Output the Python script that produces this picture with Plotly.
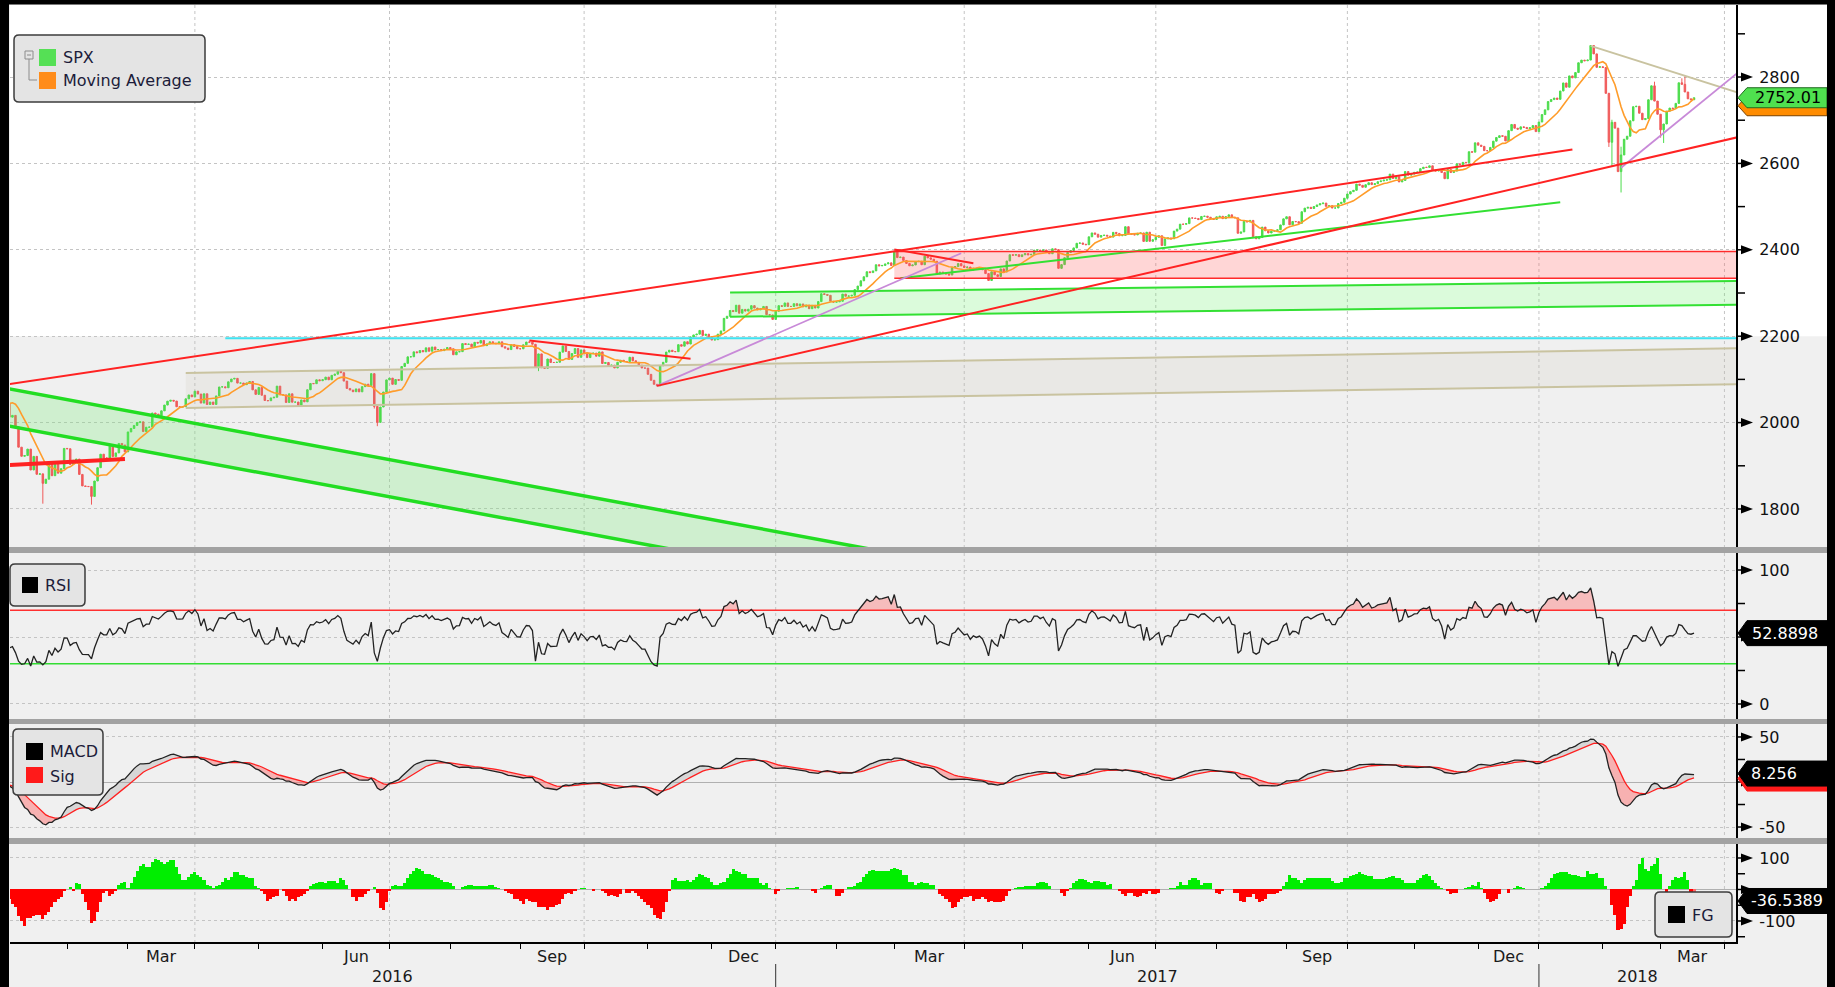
import numpy as np
import pandas as pd
import plotly.graph_objects as go
from plotly.subplots import make_subplots

# ======================= DATA =======================
holidays = ["2016-01-18", "2016-02-15", "2016-03-25", "2016-05-30", "2016-07-04", "2016-09-05",
            "2016-11-24", "2016-12-26", "2017-01-02", "2017-01-16", "2017-02-20", "2017-04-14",
            "2017-05-29", "2017-07-04", "2017-09-04", "2017-11-23", "2017-12-25", "2018-01-01",
            "2018-01-15", "2018-02-19", "2018-03-30"]

# closes before the visible window (Oct-Dec 2015), used only to seed the indicators
warmup_close = [
    1923.82, 1951.36, 1987.05, 1979.92, 1995.83, 2013.43, 2014.89, 2017.46, 2003.69, 1994.24, 2023.86,
    2033.11, 2033.66, 2030.77, 2018.94, 2052.51, 2075.15, 2071.18, 2065.89, 2090.35, 2089.41, 2079.36,
    2104.05, 2109.79, 2102.31, 2099.93, 2099.20, 2078.58, 2081.72, 2075.00, 2045.97, 2023.04,
    2053.19, 2050.44, 2083.58, 2081.24, 2089.17, 2086.59, 2089.14, 2088.87, 2090.11, 2080.41,
    2102.63, 2079.51, 2049.62, 2091.69, 2077.07, 2063.59, 2047.62, 2052.23, 2012.37, 2021.94, 2043.41,
    2073.07, 2041.89, 2005.55, 2021.15, 2038.97, 2064.29, 2060.99, 2056.50, 2078.36, 2063.36, 2043.94]

close_2016 = [
    # Jan
    2012.66, 2016.71, 1990.26, 1943.09, 1922.03, 1923.67, 1938.68, 1890.28, 1921.84, 1880.33,
    1881.33, 1859.33, 1868.99, 1906.90, 1877.08, 1903.63, 1882.95, 1893.36, 1940.24,
    # Feb
    1939.38, 1903.03, 1912.53, 1915.45, 1880.05, 1853.44, 1852.21, 1851.86, 1829.08, 1864.78,
    1895.58, 1926.82, 1917.83, 1917.78, 1945.50, 1921.27, 1929.80, 1951.70, 1948.05, 1932.23,
    # Mar
    1978.35, 1986.45, 1993.40, 1999.99, 2001.76, 1979.26, 1989.26, 1989.57, 2022.19, 2019.64, 2015.93,
    2027.22, 2040.59, 2049.58, 2051.60, 2049.80, 2036.71, 2035.94, 2037.05, 2055.01, 2063.95, 2059.74,
    # Apr
    2072.78, 2066.13, 2045.17, 2066.66, 2041.91, 2047.60, 2041.99, 2061.72, 2082.42, 2082.78, 2080.73,
    2094.34, 2100.80, 2102.40, 2091.48, 2091.58, 2087.79, 2091.70, 2095.15, 2075.81, 2065.30,
    # May
    2081.43, 2063.37, 2051.12, 2050.63, 2057.14, 2058.69, 2084.39, 2064.46, 2064.11, 2046.61, 2066.66,
    2047.21, 2047.63, 2040.04, 2052.32, 2048.04, 2076.06, 2090.54, 2090.10, 2099.06, 2096.95,
    # Jun
    2099.33, 2105.26, 2099.13, 2109.41, 2112.13, 2119.12, 2115.48, 2096.07, 2079.06, 2075.32, 2071.50,
    2077.99, 2071.22, 2083.25, 2088.90, 2085.45, 2113.32, 2037.41, 2000.54, 2036.09, 2070.77, 2098.86,
    # Jul
    2102.95, 2088.55, 2099.73, 2097.90, 2129.90, 2137.16, 2152.14, 2152.43, 2163.75, 2161.74,
    2166.89, 2163.78, 2173.02, 2165.17, 2175.03, 2168.48, 2169.18, 2166.58, 2170.06, 2173.60,
    # Aug
    2170.84, 2157.03, 2163.79, 2164.25, 2182.87, 2180.89, 2181.74, 2175.49, 2185.79, 2184.05, 2190.15,
    2178.15, 2182.22, 2187.02, 2183.87, 2182.64, 2186.90, 2175.44, 2172.47, 2169.04, 2180.38, 2176.12,
    2170.95,
    # Sep
    2170.86, 2179.98, 2186.48, 2186.16, 2181.30, 2127.81, 2159.04, 2127.02, 2125.77, 2147.26, 2139.16,
    2139.12, 2139.76, 2163.12, 2177.18, 2164.69, 2146.10, 2159.93, 2171.37, 2151.13, 2168.27,
    # Oct
    2161.20, 2150.49, 2159.73, 2160.77, 2153.74, 2163.66, 2136.73, 2139.18, 2132.55, 2132.98, 2126.50,
    2139.60, 2144.29, 2141.34, 2141.16, 2151.33, 2143.16, 2139.43, 2133.04, 2126.41, 2126.15,
    # Nov
    2111.72, 2097.94, 2088.66, 2085.18, 2131.52, 2139.56, 2163.26, 2167.48, 2164.45, 2164.20, 2180.39,
    2176.94, 2187.12, 2181.90, 2198.18, 2202.94, 2204.72, 2213.35, 2201.72, 2204.66, 2198.81,
    # Dec
    2191.08, 2191.95, 2204.71, 2212.23, 2241.35, 2246.19, 2259.53, 2256.96, 2271.72, 2253.28, 2262.03,
    2258.07, 2262.53, 2270.76, 2265.18, 2260.96, 2263.79, 2268.88, 2249.92, 2249.26, 2238.83]

close_2017 = [
    # Jan
    2257.83, 2270.75, 2269.00, 2276.98, 2268.90, 2268.90, 2275.32, 2270.44, 2274.64, 2267.89,
    2271.89, 2263.69, 2271.31, 2265.20, 2280.07, 2298.37, 2296.68, 2294.69, 2280.90, 2278.87,
    # Feb
    2279.55, 2280.85, 2297.42, 2292.56, 2293.08, 2294.67, 2307.87, 2316.10, 2328.25, 2337.58,
    2349.25, 2347.22, 2351.16, 2365.38, 2362.82, 2363.81, 2367.34, 2369.75, 2363.64,
    # Mar
    2395.96, 2381.92, 2383.12, 2375.31, 2368.39, 2362.98, 2364.87, 2372.60, 2373.47, 2365.45, 2385.26,
    2381.38, 2378.25, 2373.47, 2344.02, 2348.45, 2345.96, 2343.98, 2341.59, 2358.57, 2361.13, 2368.06,
    2362.72,
    # Apr
    2358.84, 2360.16, 2352.95, 2357.49, 2355.54, 2357.16, 2353.78, 2344.93, 2328.95, 2349.01,
    2342.19, 2338.17, 2355.84, 2348.69, 2374.15, 2388.61, 2387.45, 2388.77, 2384.20,
    # May
    2388.33, 2391.17, 2388.13, 2389.52, 2399.29, 2399.38, 2396.92, 2399.63, 2394.44, 2390.90, 2402.32,
    2400.67, 2357.03, 2365.72, 2381.73, 2394.02, 2398.42, 2404.39, 2415.07, 2415.82, 2412.91, 2411.80,
    # Jun
    2430.06, 2439.07, 2436.10, 2429.33, 2433.14, 2433.79, 2431.77, 2429.39, 2440.35, 2437.92, 2432.46,
    2433.15, 2453.46, 2437.03, 2435.61, 2434.50, 2438.30, 2439.07, 2419.38, 2440.69, 2419.70, 2423.41,
    # Jul
    2429.01, 2432.54, 2409.75, 2425.18, 2427.43, 2425.53, 2443.25, 2447.83, 2459.27, 2459.14,
    2460.61, 2473.83, 2473.45, 2472.54, 2469.91, 2477.13, 2477.83, 2475.42, 2472.10, 2470.30,
    # Aug
    2476.35, 2477.57, 2472.16, 2476.83, 2480.91, 2474.92, 2474.02, 2438.21, 2441.32, 2465.84, 2464.61,
    2468.11, 2430.01, 2425.55, 2428.37, 2452.51, 2444.04, 2438.97, 2443.05, 2444.24, 2446.30, 2457.59,
    2471.65,
    # Sep
    2476.55, 2457.85, 2465.54, 2465.10, 2461.43, 2488.11, 2496.48, 2498.37, 2495.62, 2500.23,
    2503.87, 2506.65, 2508.24, 2500.60, 2502.22, 2496.66, 2496.84, 2507.04, 2510.06, 2519.36,
    # Oct
    2529.12, 2534.58, 2537.74, 2552.07, 2549.33, 2544.73, 2550.64, 2555.24, 2550.93, 2553.17, 2557.64,
    2559.36, 2561.26, 2562.10, 2575.21, 2564.98, 2569.13, 2557.15, 2560.40, 2581.07, 2572.83, 2575.26,
    # Nov
    2579.36, 2579.85, 2587.84, 2591.13, 2590.64, 2594.38, 2584.62, 2582.30, 2584.84, 2578.87, 2564.62,
    2585.64, 2578.85, 2582.14, 2599.03, 2597.08, 2602.42, 2601.42, 2627.04, 2626.07, 2647.58,
    # Dec
    2642.22, 2639.44, 2629.57, 2629.27, 2636.98, 2651.50, 2659.99, 2664.11, 2662.85, 2652.01,
    2675.81, 2690.16, 2681.47, 2679.25, 2684.57, 2683.34, 2680.50, 2682.62, 2687.54, 2673.61]

close_2018 = [
    # Jan
    2695.81, 2713.06, 2723.99, 2743.15, 2747.71, 2751.29, 2748.23, 2767.56, 2786.24, 2776.42, 2802.56,
    2798.03, 2810.30, 2832.97, 2839.13, 2837.54, 2839.25, 2872.87, 2853.53, 2822.43, 2823.81,
    # Feb
    2821.98, 2762.13, 2648.94, 2695.14, 2681.66, 2581.00, 2619.55, 2656.00, 2662.94, 2698.63,
    2731.20, 2732.22, 2716.26, 2701.33, 2703.96, 2747.30, 2779.60, 2744.28, 2713.83,
    # Mar
    2677.67, 2691.25, 2720.94, 2728.12, 2726.80, 2738.97, 2786.57, 2783.02, 2765.31, 2749.48,
    2747.33, 2752.01]

wick_high = {"2018-01-26": 2872.87, "2018-02-02": 2808.92, "2018-02-05": 2763.39, "2018-02-06": 2701.04,
             "2018-02-09": 2638.67, "2018-02-27": 2789.15, "2018-03-12": 2796.98, "2018-03-13": 2801.90}
wick_low = {"2016-01-20": 1812.29, "2016-02-11": 1810.10, "2016-06-24": 2032.57, "2016-06-27": 1991.68,
            "2016-09-12": 2119.12, "2016-11-04": 2083.79, "2018-02-05": 2638.17, "2018-02-06": 2593.07,
            "2018-02-08": 2580.56, "2018-02-09": 2532.69, "2018-03-01": 2659.65, "2018-03-02": 2647.32}

fg_2016 = [
    -30, -45, -55, -85, -100, -115, -90, -90, -85, -80,
    -80, -95, -80, -70, -55, -40, -30, -25, -5, 3,
    7, -5, 20, 18, -15, -40, -65, -105, -100, -70,
    -40, -10, -5, -20, -15, -5, 15, 20, 25, 5,
    20, 40, 60, 75, 80, 70, 70, 88, 97, 95,
    88, 80, 88, 95, 95, 70, 50, 30, 30, 40,
    50, 55, 45, 40, 30, 15, 10, 5, 10, 15,
    25, 35, 30, 40, 55, 55, 45, 45, 40, 35,
    35, 10, 5, -5, -15, -35, -30, -25, -20, 0,
    -5, -20, -35, -30, -35, -25, -20, -15, -5, 10,
    18, 20, 25, 25, 22, 28, 28, 28, 20, 38,
    30, 15, 0, -25, -35, -25, -25, -15, -5, 3,
    8, -10, -60, -65, -40, -5, 10, 15, 10, 10,
    20, 35, 50, 60, 68, 65, 60, 50, 50, 45,
    40, 38, 30, 25, 25, 22, 10, 3, 0, 8,
    10, 15, 13, 12, 12, 10, 10, 12, 15, 15,
    8, 5, 0, -5, -10, -15, -30, -30, -35, -45,
    -30, -35, -40, -40, -55, -55, -55, -65, -55, -55,
    -50, -45, -30, -15, -10, -15, -5, 0, 5, 5,
    0, 0, -5, 0, 0, -5, -10, -20, -18, -20,
    -25, -15, 0, -10, -10, -5, -10, -20, -30, -40,
    -50, -60, -80, -90, -95, -70, -40, -5, 30, 35,
    28, 28, 28, 30, 25, 30, 40, 48, 45, 40,
    35, 25, 15, 15, 20, 25, 35, 50, 65, 60,
    55, 48, 48, 35, 35, 35, 35, 22, 15, 20,
    5, 0]
fg_2017 = [
    -15, -5, 0, 0, 5, 5, 5, 8,
    3, 0, 0, 0, -5, -10, 0, 5, 10, 13,
    13, 0, -20, -20, -10, 3, 8, 8, 12, 20,
    25, 40, 50, 58, 62, 60, 60, 60, 60, 60,
    65, 68, 65, 62, 45, 45, 25, 25, 15, 20,
    25, 20, 20, 15, 15, 0, -15, -20, -30, -40,
    -60, -55, -40, -30, -25, -25, -20, -35, -30, -30,
    -25, -30, -40, -35, -40, -40, -40, -35, -20, -5,
    3, 5, 8, 8, 12, 12, 12, 12, 20, 25,
    25, 20, 10, 0, 0, 0, -10, -20, -5, 5,
    20, 28, 33, 33, 30, 25, 22, 28, 28, 25,
    25, 15, 18, 0, 0, -5, -15, -20, -12, -12,
    -20, -25, -20, -12, -15, -5, -15, -15, -10, 0,
    3, 3, 5, 5, 10, 25, 15, 15, 30, 38,
    38, 30, 15, 20, 20, 20, 0, -10, -15, -5,
    0, 0, 0, -10, -10, -35, -40, -25, -25, -15,
    -30, -40, -35, -30, -15, -15, -15, -10, -5, 10,
    25, 45, 38, 35, 30, 22, 30, 35, 35, 35,
    35, 35, 35, 35, 35, 28, 20, 22, 25, 35,
    38, 42, 45, 50, 55, 50, 45, 42, 42, 32,
    32, 32, 32, 38, 40, 42, 38, 38, 30, 20,
    20, 20, 20, 30, 38, 45, 48, 42, 30, 22,
    10, 5, 0, -5, -15, -12, -10, 0, 3, 5,
    8, 15, 10, 25, 5, -10, -30, -40, -38, -30,
    -15, 0, 0, -10, 3, 5, 10, 8, 5, 2,
    2, 2, 2]
fg_2018 = [
    0, 5, 10, 20, 35, 48, 52,
    55, 55, 55, 50, 45, 45, 42, 40, 40, 58,
    50, 50, 52, 35, 35, 10, 0, -50, -80, -130,
    -125, -110, -55, -20, 10, 30, 80, 100, 65, 60,
    75, 80, 100, 50, 0, -10, 10, 30, 40, 38,
    40, 55, 30, -15, -36.5389]

# last-value labels shown on the right axis
last_price = 2752.01
last_rsi = 52.8898
last_macd = 8.256
last_fg = -36.5389

# drawn studies: (start date, start value, end date, end value)
red_lines = [("2016-01-04", 2089, "2018-01-18", 2632),
             ("2016-11-04", 2085, "2018-04-06", 2660),
             ("2016-09-07", 2190, "2016-11-21", 2148),
             ("2017-03-01", 2401, "2017-04-06", 2369)]
red_thick_lines = [("2016-01-04", 1902, "2016-02-29", 1916)]
green_lines = [("2017-03-03", 2334, "2018-01-11", 2510)]
green_channel = [("2016-01-04", 2078, "2017-03-14", 1685),
                 ("2016-01-04", 1992, "2017-03-14", 1599)]
green_zone = [("2016-12-09", 2301, "2018-04-06", 2328),
              ("2016-12-09", 2245, "2018-04-06", 2273)]
red_zone = ("2017-03-01", "2018-04-06", 2334, 2396)
purple_lines = [("2016-11-04", 2085, "2017-03-31", 2392),
                ("2018-02-09", 2590, "2018-04-06", 2808)]
tan_lines = [("2018-01-26", 2872, "2018-04-06", 2765)]
tan_band = [("2016-03-29", 2115, "2018-04-06", 2172),
            ("2016-03-29", 2034, "2018-04-06", 2089)]
cyan_level = ("2016-04-15", "2018-04-06", 2195)

price_ticks = [1800, 2000, 2200, 2400, 2600, 2800]
price_minor = [1900, 2100, 2300, 2500, 2700, 2900]
rsi_levels = (70, 30)

# ======================= LAYOUT CONSTANTS =======================
FONT = "DejaVu Sans, Verdana, Arial, sans-serif"
W, H = 1835, 987
PL, PR, PT, PB = 10, 1736, 5, 942
XR = [0.2, 567.8]
PANELS = {"price": (5, 548, [1709.7, 2966.7]),
          "rsi": (553, 719, [-11.2, 112.7]),
          "macd": (724, 839, [-63.3, 64.4]),
          "fg": (844, 942, [-166.7, 144.4])}
GREEN = "#4cdc4c"
RED = "#f05a5a"


def X(px):
    return (px - PL) / (PR - PL)


def Y(py):
    return (PB - py) / (PB - PT)


def xpx(i):
    return PL + (i - XR[0]) / (XR[1] - XR[0]) * (PR - PL)


def vpx(panel, v):
    t, b, r = PANELS[panel]
    return t + (r[1] - v) / (r[1] - r[0]) * (b - t)


# ======================= CALENDAR & STUDIES =======================
cal = pd.bdate_range("2016-01-04", "2018-04-30")
cal = cal[~cal.isin(pd.to_datetime(holidays))]
pos = {d: i for i, d in enumerate(cal)}


def xi(d):
    return pos[pd.Timestamp(d)]


close = np.array(close_2016 + close_2017 + close_2018, dtype=float)
n = len(close)
x = np.arange(n)
full = pd.Series(warmup_close + list(close))
nw = len(warmup_close)
opens = full.shift(1).values[nw:]
highs = np.maximum(opens, close)
lows = np.minimum(opens, close)
for d, v in wick_high.items():
    highs[xi(d)] = max(highs[xi(d)], v)
for d, v in wick_low.items():
    lows[xi(d)] = min(lows[xi(d)], v)

ma = full.rolling(10).mean().values[nw:]
delta = full.diff().fillna(0)
ag = delta.clip(lower=0).ewm(alpha=1 / 14, adjust=False).mean()
al = (-delta).clip(lower=0).ewm(alpha=1 / 14, adjust=False).mean()
rsi = (100 - 100 / (1 + ag / al)).values[nw:]
macd_s = full.ewm(span=12, adjust=False).mean() - full.ewm(span=26, adjust=False).mean()
sig_s = macd_s.ewm(span=9, adjust=False).mean()
macd = macd_s.values[nw:]
sig = sig_s.values[nw:]
fg = np.array(fg_2016 + fg_2017 + fg_2018, dtype=float)[:n]

# ======================= FIGURE =======================
fig = make_subplots(rows=4, cols=1, shared_xaxes=True, vertical_spacing=0.01)


def add(tr, row):
    fig.add_trace(tr, row=row, col=1)


def seg_trace(a, va, b, vb, color, width):
    return go.Scatter(x=[xi(a), xi(b)], y=[va, vb], mode="lines", line=dict(color=color, width=width),
                      hoverinfo="skip")


def band_trace(top, bot, fill):
    (a, v1, b, v2), (c, w1, d, w2) = top, bot
    return go.Scatter(x=[xi(a), xi(b), xi(d), xi(c), xi(a)], y=[v1, v2, w2, w1, v1], mode="lines",
                      line=dict(width=0), fill="toself", fillcolor=fill, hoverinfo="skip")


# fills
add(band_trace(tan_band[0], tan_band[1], "rgba(175,170,135,0.10)"), 1)
add(band_trace(green_channel[0], green_channel[1], "rgba(90,235,90,0.22)"), 1)
add(band_trace(green_zone[0], green_zone[1], "rgba(90,235,90,0.22)"), 1)
ra, rb, rlo, rhi = red_zone
add(go.Scatter(x=[xi(ra), xi(rb), xi(rb), xi(ra), xi(ra)], y=[rhi, rhi, rlo, rlo, rhi], mode="lines",
               line=dict(width=0), fill="toself", fillcolor="rgba(255,90,90,0.25)", hoverinfo="skip"), 1)

# candles + MA
add(go.Candlestick(x=x, open=opens, high=highs, low=lows, close=close,
                   increasing=dict(line=dict(color=GREEN, width=1), fillcolor=GREEN),
                   decreasing=dict(line=dict(color=RED, width=1), fillcolor=RED),
                   whiskerwidth=0, hoverinfo="skip"), 1)
add(go.Scatter(x=x, y=ma, mode="lines", line=dict(color="#ff9c2a", width=1.6), hoverinfo="skip"), 1)

# study lines
for t in tan_band:
    add(seg_trace(*t, "#c9c3a0", 2), 1)
for t in tan_lines:
    add(seg_trace(*t, "#c9c3a0", 2), 1)
for t in green_channel:
    add(seg_trace(*t, "#22dd22", 3.5), 1)
for t in green_zone:
    add(seg_trace(*t, "#33e033", 2), 1)
for t in green_lines:
    add(seg_trace(*t, "#33e033", 2), 1)
add(go.Scatter(x=[xi(ra), xi(rb)], y=[rhi, rhi], mode="lines", line=dict(color="#ff2a2a", width=1.5)), 1)
add(go.Scatter(x=[xi(ra), xi(rb)], y=[rlo, rlo], mode="lines", line=dict(color="#ff2a2a", width=1.5)), 1)
ca, cb, cv = cyan_level
add(go.Scatter(x=[xi(ca), xi(cb)], y=[cv, cv], mode="lines", line=dict(color="#3fe3f2", width=2)), 1)
for t in purple_lines:
    add(seg_trace(*t, "#c88ad8", 1.8), 1)
for t in red_lines:
    add(seg_trace(*t, "#ff2222", 2), 1)
for t in red_thick_lines:
    add(seg_trace(*t, "#ff2222", 4), 1)

# RSI
hi_l, lo_l = rsi_levels
add(go.Scatter(x=x, y=np.full(n, float(hi_l)), mode="lines", line=dict(width=0)), 2)
add(go.Scatter(x=x, y=np.maximum(rsi, hi_l), mode="lines", line=dict(width=0), fill="tonexty",
               fillcolor="rgba(255,110,110,0.4)"), 2)
add(go.Scatter(x=x, y=np.minimum(rsi, lo_l), mode="lines", line=dict(width=0)), 2)
add(go.Scatter(x=x, y=np.full(n, float(lo_l)), mode="lines", line=dict(width=0), fill="tonexty",
               fillcolor="rgba(80,230,80,0.4)"), 2)
add(go.Scatter(x=XR, y=[hi_l, hi_l], mode="lines", line=dict(color="#ff3030", width=1.5)), 2)
add(go.Scatter(x=XR, y=[lo_l, lo_l], mode="lines", line=dict(color="#33dd33", width=1.5)), 2)
add(go.Scatter(x=x, y=rsi, mode="lines", line=dict(color="#222222", width=1.3)), 2)

# MACD
add(go.Scatter(x=x, y=sig, mode="lines", line=dict(width=0)), 3)
add(go.Scatter(x=x, y=np.maximum(macd, sig), mode="lines", line=dict(width=0), fill="tonexty",
               fillcolor="rgba(170,170,170,0.35)"), 3)
add(go.Scatter(x=x, y=macd, mode="lines", line=dict(width=0)), 3)
add(go.Scatter(x=x, y=np.maximum(macd, sig), mode="lines", line=dict(width=0), fill="tonexty",
               fillcolor="rgba(255,100,100,0.45)"), 3)
add(go.Scatter(x=x, y=sig, mode="lines", line=dict(color="#ff2020", width=1.3)), 3)
add(go.Scatter(x=x, y=macd, mode="lines", line=dict(color="#222222", width=1.3)), 3)

# FG histogram
fg_colors = ["#00ee00" if v >= 0 else "#ff0000" for v in fg]
fg_colors[-1] = "#ff6a6a"
add(go.Bar(x=x, y=fg, marker=dict(color=fg_colors, line=dict(width=0)), width=1.0, hoverinfo="skip"), 4)

# ======================= AXES =======================
fig.update_xaxes(range=XR, showgrid=False, zeroline=False, showticklabels=False, ticks="",
                 rangeslider_visible=False, fixedrange=True)
month_first = pd.Series(np.arange(len(cal)), index=cal).groupby([cal.year, cal.month]).first()
month_ticks = [int(v) for v in month_first.values if XR[0] <= v <= XR[1]]
fig.update_xaxes(showline=True, linecolor="black", linewidth=2, ticks="outside", ticklen=5, tickwidth=1,
                 tickcolor="black", tickmode="array", tickvals=month_ticks, row=4, col=1)


def yax(panel, vals, labels, zl=False):
    t, b, r = PANELS[panel]
    return dict(range=r, domain=[Y(b), Y(t)], side="right", showline=True, linecolor="black", linewidth=2,
                tickmode="array", tickvals=vals, ticktext=labels, ticks="outside", ticklen=18,
                tickcolor="rgba(0,0,0,0)", tickfont=dict(family=FONT, size=16, color="#111111"),
                showgrid=True, gridcolor="#c4c4c4", griddash="dot", gridwidth=1,
                zeroline=zl, zerolinecolor="#b0b0b0", zerolinewidth=1, fixedrange=True)


fig.update_layout(
    yaxis=yax("price", price_ticks, [str(v) for v in price_ticks]),
    yaxis2=yax("rsi", [0, 50, 100], ["0", "", "100"]),
    yaxis3=yax("macd", [-50, 50], ["-50", "50"], zl=True),
    yaxis4=yax("fg", [-100, 100], ["-100", "100"], zl=True),
)

# ======================= DECORATION =======================
shapes = []
annots = []


def rect(x0, y0, x1, y1, fill, line=None, lw=0, layer="above"):
    shapes.append(dict(type="rect", xref="paper", yref="paper", x0=X(x0), x1=X(x1), y0=Y(y1), y1=Y(y0),
                       fillcolor=fill, line=dict(color=line or fill, width=lw), layer=layer))


def seg(x0, y0, x1, y1, color, w=1.0, dash="solid", layer="above"):
    shapes.append(dict(type="line", xref="paper", yref="paper", x0=X(x0), y0=Y(y0), x1=X(x1), y1=Y(y1),
                       line=dict(color=color, width=w, dash=dash), layer=layer))


def poly(pts, fill, line=None, lw=0):
    path = "M " + " L ".join(f"{X(a):.5f},{Y(b):.5f}" for a, b in pts) + " Z"
    shapes.append(dict(type="path", xref="paper", yref="paper", path=path, fillcolor=fill,
                       line=dict(color=line or fill, width=lw), layer="above"))


def rrect(x0, y0, x1, y1, r, fill="#e4e4e4", line="#3c3c3c", lw=1.5):
    P = lambda a, b: f"{X(a):.5f},{Y(b):.5f}"
    path = (f"M {P(x0 + r, y0)} L {P(x1 - r, y0)} Q {P(x1, y0)} {P(x1, y0 + r)} L {P(x1, y1 - r)} "
            f"Q {P(x1, y1)} {P(x1 - r, y1)} L {P(x0 + r, y1)} Q {P(x0, y1)} {P(x0, y1 - r)} "
            f"L {P(x0, y0 + r)} Q {P(x0, y0)} {P(x0 + r, y0)} Z")
    shapes.append(dict(type="path", xref="paper", yref="paper", path=path, fillcolor=fill,
                       line=dict(color=line, width=lw), layer="above"))


def text(px, py, s, size=16, color="#111111", anchor="left"):
    annots.append(dict(x=X(px), y=Y(py), xref="paper", yref="paper", text=s, showarrow=False,
                       xanchor=anchor, yanchor="middle", font=dict(family=FONT, size=size, color=color)))


# white upper area of price panel
rect(PL, PANELS["price"][0], 1827, vpx("price", 2200), "#ffffff", layer="below")

# vertical quarter grid
q_ticks = [int(month_first[(y, m)]) for (y, m) in month_first.index if m in (1, 4, 7, 10)]
for q in q_ticks:
    if XR[0] < q < XR[1]:
        for p in PANELS:
            t, b, _ = PANELS[p]
            seg(xpx(q), t, xpx(q), b, "#c4c4c4", 1, "dot", layer="below")

# separators
for (a, b) in [(547, 553), (719, 724), (838, 844)]:
    rect(9, a, 1827, b, "#a2a2a2")

# right axis ticks
majors = {"price": price_ticks, "rsi": [0, 50, 100], "macd": [-50, 0, 50], "fg": [-100, 0, 100]}
minors = {"price": price_minor, "rsi": [25, 75], "macd": [-25, 25], "fg": [-150, -50, 50]}
for p, vals in majors.items():
    for v in vals:
        yc = vpx(p, v)
        seg(1737, yc, 1742, yc, "black", 1.5)
        poly([(1741, yc - 4.5), (1753, yc), (1741, yc + 4.5)], "black")
for p, vals in minors.items():
    for v in vals:
        yc = vpx(p, v)
        seg(1737, yc, 1745, yc, "black", 1.5)


def value_tag(yc, h, fill, edge):
    poly([(1738, yc), (1747, yc - h / 2), (1827, yc - h / 2), (1827, yc + h / 2), (1747, yc + h / 2)],
         fill, edge, 1)


yp = vpx("price", last_price)
value_tag(yp + 8, 20, "#ff8c00", "#7a4200")
value_tag(yp, 20, "#4fe04f", "#1f6a1f")
text(1753, yp, f"{last_price:.2f}", 16, "#000000")
yr = vpx("rsi", last_rsi)
value_tag(yr, 25, "#000000", "#000000")
text(1750, yr, f"{last_rsi:.4f}", 16, "#ffffff")
ym = vpx("macd", last_macd)
value_tag(ym + 4, 25, "#ff1a1a", "#ff1a1a")
value_tag(ym - 1, 25, "#000000", "#000000")
text(1749, ym - 1, f"{last_macd:.3f}", 16, "#ffffff")
yf = vpx("fg", last_fg)
value_tag(yf, 25, "#000000", "#000000")
text(1749, yf, f"{last_fg:.4f}", 16, "#ffffff")

# legends
rrect(14, 35, 205, 102, 5)
rect(25, 51, 33, 59, "#e4e4e4", "#8c8c8c", 1)
seg(27, 55, 31, 55, "#8c8c8c", 1)
seg(29, 59, 29, 80, "#8c8c8c", 1)
seg(29, 80, 37, 80, "#8c8c8c", 1)
rect(39, 49, 56, 66, "#55e055")
rect(39, 72, 56, 89, "#ff8c1a")
text(61, 58, "SPX", 16, "#1c1c3a")
text(61, 81, "Moving Average", 16, "#1c1c3a")

rrect(10, 564, 85, 606, 5)
rect(22, 577, 38, 593, "#000000")
text(43, 585, "RSI", 16, "#1c1c3a")

rrect(13, 729, 103, 795, 5)
rect(26, 743, 43, 760, "#000000")
rect(26, 767, 43, 783, "#ff1a1a")
text(48, 751, "MACD", 16, "#1c1c3a")
text(48, 776, "Sig", 16, "#1c1c3a")

rrect(1655, 892, 1732, 937, 5)
rect(1668, 906, 1685, 923, "#000000")
text(1690, 915, "FG", 16, "#1c1c3a")

# month and year labels
mnames = {3: "Mar", 6: "Jun", 9: "Sep", 12: "Dec"}
keys = list(month_first.index)
for k, (yy, mm) in enumerate(keys[:-1]):
    if mm in mnames:
        a = xpx(month_first[(yy, mm)])
        b = xpx(month_first[keys[k + 1]])
        cx = (a + b) / 2
        if PL < cx < PR:
            text(cx, 956, mnames[mm], 16, "#1a1a1a", "center")
year_bounds = [PL] + [xpx(month_first[(yy, 1)]) for yy in (2017, 2018)] + [PR]
for k, yy in enumerate((2016, 2017, 2018)):
    text((year_bounds[k] + year_bounds[k + 1]) / 2, 976, str(yy), 16, "#1a1a1a", "center")
for b in year_bounds[1:3]:
    seg(b, 964, b, 990, "#333333", 1)

# black frame
rect(-5, -5, 9, 995, "#000000")
rect(-5, -5, 1845, 4.5, "#000000")
rect(1827, -5, 1845, 995, "#000000")

fig.update_layout(width=W, height=H, autosize=False, showlegend=False,
                  margin=dict(l=PL, r=W - PR, t=PT, b=H - PB),
                  paper_bgcolor="#f0f0f0", plot_bgcolor="rgba(0,0,0,0)",
                  bargap=0, hovermode=False, shapes=shapes, annotations=annots,
                  font=dict(family=FONT, size=16, color="#111111"))

fig.write_html("out.html", config={"displayModeBar": False, "staticPlot": True},
               post_script="document.documentElement.style.margin='0';document.body.style.margin='0';"
                           "document.body.style.padding='0';document.body.style.overflow='hidden';")
